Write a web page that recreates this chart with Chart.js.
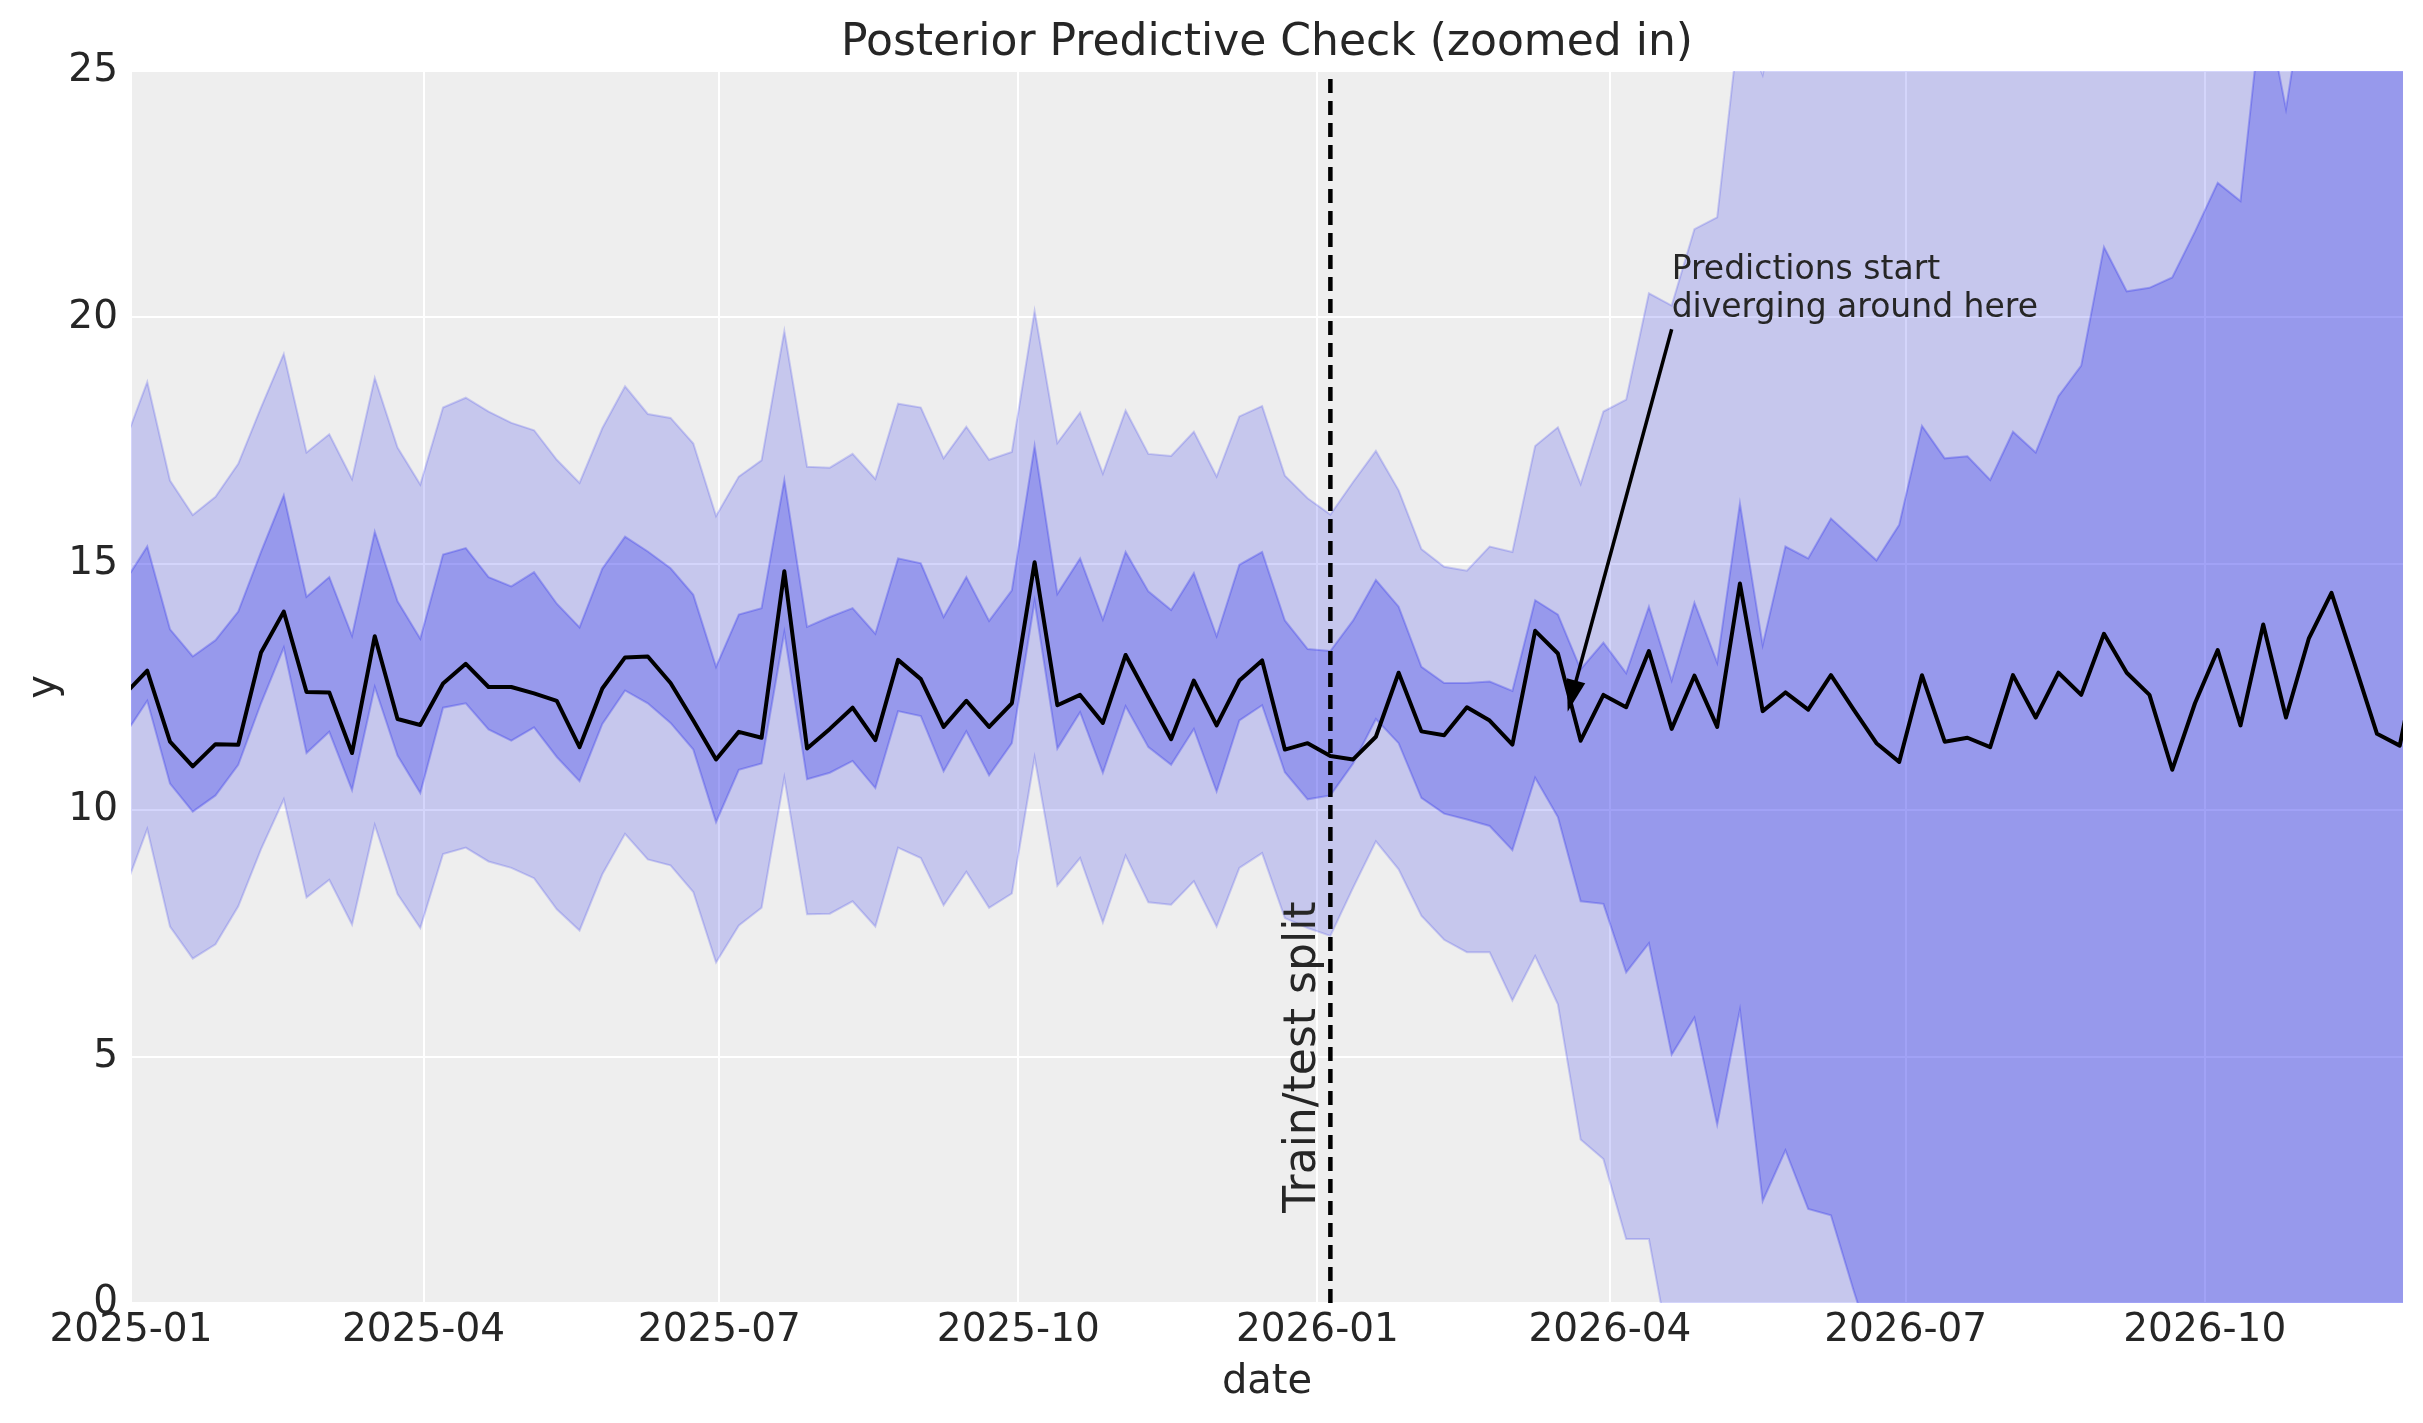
<!DOCTYPE html>
<html><head><meta charset="utf-8">
<script src="https://cdn.jsdelivr.net/npm/chart.js@4.4.1/dist/chart.umd.min.js"></script>
<style>html,body{margin:0;padding:0;background:#fff;}canvas{display:block;}</style>
</head><body>
<canvas id="c" width="2423" height="1423"></canvas>
<script>
// ---------------- data ----------------
const dates = [
'2024-12-30','2025-01-06','2025-01-13','2025-01-20','2025-01-27','2025-02-03','2025-02-10','2025-02-17','2025-02-24','2025-03-03',
'2025-03-10','2025-03-17','2025-03-24','2025-03-31','2025-04-07','2025-04-14','2025-04-21','2025-04-28','2025-05-05','2025-05-12',
'2025-05-19','2025-05-26','2025-06-02','2025-06-09','2025-06-16','2025-06-23','2025-06-30','2025-07-07','2025-07-14','2025-07-21',
'2025-07-28','2025-08-04','2025-08-11','2025-08-18','2025-08-25','2025-09-01','2025-09-08','2025-09-15','2025-09-22','2025-09-29',
'2025-10-06','2025-10-13','2025-10-20','2025-10-27','2025-11-03','2025-11-10','2025-11-17','2025-11-24','2025-12-01','2025-12-08',
'2025-12-15','2025-12-22','2025-12-29','2026-01-05','2026-01-12','2026-01-19','2026-01-26','2026-02-02','2026-02-09','2026-02-16',
'2026-02-23','2026-03-02','2026-03-09','2026-03-16','2026-03-23','2026-03-30','2026-04-06','2026-04-13','2026-04-20','2026-04-27',
'2026-05-04','2026-05-11','2026-05-18','2026-05-25','2026-06-01','2026-06-08','2026-06-15','2026-06-22','2026-06-29','2026-07-06',
'2026-07-13','2026-07-20','2026-07-27','2026-08-03','2026-08-10','2026-08-17','2026-08-24','2026-08-31','2026-09-07','2026-09-14',
'2026-09-21','2026-09-28','2026-10-05','2026-10-12','2026-10-19','2026-10-26','2026-11-02','2026-11-09','2026-11-16','2026-11-23',
'2026-11-30','2026-12-07'];

const observed = [
12.35,12.83,11.39,10.89,11.34,11.33,13.20,14.03,12.40,12.39,
11.16,13.53,11.85,11.73,12.57,12.97,12.50,12.50,12.37,12.22,
11.28,12.47,13.10,13.12,12.58,11.82,11.03,11.59,11.47,14.85,
11.25,11.65,12.08,11.42,13.05,12.66,11.69,12.22,11.69,12.17,
15.03,12.13,12.34,11.77,13.15,12.29,11.44,12.63,11.72,12.63,
13.04,11.23,11.36,11.10,11.03,11.49,12.79,11.60,11.52,12.09,
11.82,11.33,13.64,13.18,11.41,12.34,12.09,13.23,11.65,12.73,
11.69,14.60,12.01,12.39,12.04,12.74,12.04,11.36,10.98,12.74,
11.39,11.47,11.28,12.74,11.88,12.79,12.34,13.58,12.79,12.34,
10.82,12.17,13.25,11.72,13.77,11.88,13.48,14.41,12.99,11.55,
11.31,13.60];

const hdi94Upper = [
17.45,18.69,16.69,15.99,16.36,17.03,18.17,19.26,17.26,17.63,
16.72,18.77,17.36,16.61,18.17,18.37,18.09,17.86,17.71,17.11,
16.64,17.75,18.60,18.04,17.96,17.44,15.97,16.77,17.10,19.72,
16.97,16.95,17.23,16.72,18.25,18.17,17.14,17.78,17.11,17.27,
20.13,17.45,18.07,16.83,18.11,17.23,17.19,17.68,16.77,17.99,
18.20,16.79,16.33,16.00,16.66,17.29,16.49,15.30,14.94,14.86,
15.35,15.24,17.39,17.77,16.62,18.09,18.33,20.49,20.24,21.79,
22.03,26.10,24.92,27.30,27.90,28.60,28.90,29.40,30.20,31.00,
32.40,32.80,33.10,33.50,34.40,34.90,35.60,36.10,37.40,37.00,
37.70,38.50,39.10,40.40,40.10,41.40,40.90,42.60,43.40,44.00,
44.60,45.20];

const hdi50Upper = [
14.63,15.35,13.67,13.12,13.45,14.03,15.24,16.39,14.33,14.73,
13.54,15.65,14.24,13.48,15.19,15.32,14.73,14.54,14.83,14.19,
13.71,14.90,15.55,15.25,14.91,14.37,12.91,13.97,14.10,16.70,
13.72,13.92,14.10,13.58,15.11,15.01,13.92,14.73,13.84,14.46,
17.39,14.39,15.11,13.87,15.24,14.44,14.06,14.81,13.53,14.98,
15.24,13.85,13.27,13.23,13.85,14.67,14.13,12.91,12.58,12.58,
12.61,12.42,14.26,13.97,12.86,13.40,12.78,14.13,12.63,14.21,
12.99,16.22,13.35,15.35,15.11,15.92,15.50,15.07,15.79,17.80,
17.14,17.18,16.70,17.68,17.26,18.40,19.02,21.43,20.53,20.60,
20.81,21.74,22.73,22.36,26.60,24.23,27.20,28.00,28.90,29.60,
30.40,31.20];

const hdi50Lower = [
11.52,12.22,10.54,9.97,10.30,10.92,12.17,13.30,11.16,11.59,
10.41,12.50,11.11,10.35,12.08,12.17,11.64,11.41,11.68,11.08,
10.59,11.75,12.43,12.17,11.77,11.23,9.76,10.82,10.95,13.61,
10.63,10.76,11.00,10.45,12.01,11.91,10.79,11.60,10.71,11.36,
14.24,11.25,11.99,10.76,12.11,11.28,10.92,11.65,10.38,11.82,
12.13,10.77,10.22,10.30,10.95,11.85,11.36,10.25,9.93,9.81,
9.68,9.19,10.66,9.86,8.15,8.10,6.71,7.30,5.04,5.79,
3.62,5.95,2.07,3.10,1.91,1.78,0.25,-1.20,-1.90,-2.60,
-2.30,-3.10,-3.60,-3.30,-4.20,-4.60,-4.90,-5.60,-5.30,-6.10,
-6.80,-6.50,-7.20,-7.60,-7.90,-8.40,-8.10,-8.90,-9.30,-9.80,
-10.20,-10.60];

const hdi94Lower = [
8.38,9.62,7.64,6.99,7.28,8.05,9.21,10.22,8.23,8.59,
7.68,9.70,8.30,7.61,9.11,9.24,8.96,8.83,8.62,7.99,
7.56,8.70,9.52,9.00,8.88,8.34,6.91,7.66,8.02,10.66,
7.89,7.90,8.15,7.64,9.24,9.03,8.07,8.75,8.02,8.31,
11.07,8.47,9.03,7.72,9.08,8.13,8.08,8.56,7.64,8.83,
9.13,7.81,7.61,7.45,8.43,9.37,8.80,7.86,7.37,7.12,
7.12,6.14,7.04,6.06,3.32,2.92,1.30,1.30,-1.20,-0.90,
-3.00,-2.20,-5.10,-4.60,-6.00,-6.40,-7.90,-8.50,-9.20,-8.80,
-10.00,-10.50,-11.20,-10.90,-12.00,-12.60,-13.10,-13.80,-13.40,-14.50,
-15.20,-14.90,-15.80,-16.30,-16.90,-17.40,-17.10,-18.20,-18.80,-19.30,
-19.90,-20.40];

const xTickLabels = ['2025-01','2025-04','2025-07','2025-10','2026-01','2026-04','2026-07','2026-10'];
const xRange = ['2025-01-01','2026-12-01'];
const yTicks = [0,5,10,15,20,25];
const yRange = [0,25];

const titleText = 'Posterior Predictive Check (zoomed in)';
const xTitle = 'date';
const yTitle = 'y';
const splitDate = '2026-01-05';
const splitLabel = 'Train/test split';
const splitLabelY = 1.83;
const annotationLines = ['Predictions start','diverging around here'];
const annotationTextAt = ['2026-04-20', 20];
const arrowFrom = ['2026-04-20', 19.76];
const arrowTo = ['2026-03-19', 12.0];

// ---------------- helpers ----------------
const DAY = 86400000;
const ORIGIN = Date.UTC(2025,0,1);
function dayOf(s){ const p = s.split('-').map(Number); return (Date.UTC(p[0], p[1]-1, p[2]||1) - ORIGIN)/DAY; }
function pts(arr){ return arr.map((v,i)=>({x: dayOf(dates[i]), y: v})); }

const FONT = '"DejaVu Sans", "Liberation Sans", sans-serif';
const TXT = '#262626';
const C0 = '42,46,236';

const bgPlugin = {
  id: 'bg',
  beforeDraw(chart){
    const {ctx, chartArea:a} = chart;
    ctx.save();
    ctx.fillStyle = '#ffffff';
    ctx.fillRect(0,0,chart.width,chart.height);
    ctx.fillStyle = '#eeeeee';
    ctx.fillRect(a.left, a.top, a.right-a.left, a.bottom-a.top);
    ctx.restore();
  }
};

const overlayPlugin = {
  id: 'overlay',
  afterDatasetsDraw(chart){
    const {ctx, chartArea:a, scales:{x, y}} = chart;
    // dashed split line
    const sx = x.getPixelForValue(dayOf(splitDate));
    ctx.save();
    ctx.beginPath(); ctx.rect(a.left, a.top, a.right-a.left, a.bottom-a.top); ctx.clip();
    ctx.setLineDash([14,8]);
    ctx.lineWidth = 4.5;
    ctx.strokeStyle = '#000';
    ctx.beginPath(); ctx.moveTo(sx, a.bottom); ctx.lineTo(sx, a.top); ctx.stroke();
    ctx.restore();

    // split label
    ctx.save();
    ctx.translate(sx - 15, y.getPixelForValue(splitLabelY));
    ctx.rotate(-Math.PI/2);
    ctx.font = '44px ' + FONT;
    ctx.fillStyle = TXT;
    ctx.textAlign = 'left';
    ctx.textBaseline = 'alphabetic';
    ctx.fillText(splitLabel, 0, 0);
    ctx.restore();

    // annotation text
    const tx = x.getPixelForValue(dayOf(annotationTextAt[0]));
    const ty = y.getPixelForValue(annotationTextAt[1]);
    ctx.save();
    ctx.font = '33px ' + FONT;
    ctx.fillStyle = TXT;
    ctx.textAlign = 'left';
    ctx.textBaseline = 'alphabetic';
    const lh = 38;
    annotationLines.forEach((t,i)=>{
      ctx.fillText(t, tx, ty - (annotationLines.length-1-i)*lh);
    });
    ctx.restore();

    // arrow
    const x1 = x.getPixelForValue(dayOf(arrowFrom[0])), y1 = y.getPixelForValue(arrowFrom[1]);
    const x2 = x.getPixelForValue(dayOf(arrowTo[0])), y2 = y.getPixelForValue(arrowTo[1]);
    const dx = x2-x1, dy = y2-y1, L = Math.hypot(dx,dy);
    const ux = dx/L, uy = dy/L;
    const hl = 32, hw = 9.5;
    const bx = x2 - ux*hl, by = y2 - uy*hl;
    ctx.save();
    ctx.strokeStyle = '#000'; ctx.fillStyle = '#000';
    ctx.lineWidth = 3.5;
    ctx.beginPath(); ctx.moveTo(x1,y1); ctx.lineTo(bx+ux*2, by+uy*2); ctx.stroke();
    ctx.beginPath();
    ctx.moveTo(x2,y2);
    ctx.lineTo(bx - uy*hw, by + ux*hw);
    ctx.lineTo(bx + uy*hw, by - ux*hw);
    ctx.closePath(); ctx.fill();
    ctx.restore();
  },
  afterDraw(chart){
    const {ctx, chartArea:a} = chart;
    ctx.save();
    ctx.fillStyle = TXT;
    ctx.textAlign = 'center';
    ctx.textBaseline = 'alphabetic';
    ctx.font = '44px ' + FONT;
    ctx.fillText(titleText, (a.left+a.right)/2, 55);
    ctx.font = '40px ' + FONT;
    ctx.fillText(xTitle, (a.left+a.right)/2, 1393);
    ctx.translate(55, (a.top+a.bottom)/2);
    ctx.rotate(-Math.PI/2);
    ctx.fillText(yTitle, 0, 0);
    ctx.restore();
  }
};

const lineBase = {pointRadius:0, pointHoverRadius:0, tension:0, clip:0};

new Chart(document.getElementById('c').getContext('2d'), {
  type: 'line',
  data: {
    datasets: [
      Object.assign({label:'observed', data: pts(observed), borderColor:'#000', borderWidth:4, fill:false, borderJoinStyle:'round', borderCapStyle:'round'}, lineBase),
      Object.assign({label:'50% HDI upper', data: pts(hdi50Upper), borderColor:`rgba(${C0},0.3)`, backgroundColor:`rgba(${C0},0.3)`, borderWidth:2, fill:'+1'}, lineBase),
      Object.assign({label:'50% HDI lower', data: pts(hdi50Lower), borderColor:`rgba(${C0},0.3)`, borderWidth:2, fill:false}, lineBase),
      Object.assign({label:'94% HDI upper', data: pts(hdi94Upper), borderColor:`rgba(${C0},0.2)`, backgroundColor:`rgba(${C0},0.2)`, borderWidth:2, fill:'+1'}, lineBase),
      Object.assign({label:'94% HDI lower', data: pts(hdi94Lower), borderColor:`rgba(${C0},0.2)`, borderWidth:2, fill:false}, lineBase)
    ]
  },
  options: {
    responsive: false,
    devicePixelRatio: 1,
    animation: false,
    events: [],
    layout: {padding: {top: 71, right: 20, left: 0, bottom: 0}},
    plugins: {legend: {display:false}, title: {display:false}, tooltip: {enabled:false}},
    scales: {
      x: {
        type: 'linear',
        min: dayOf(xRange[0]),
        max: dayOf(xRange[1]),
        afterBuildTicks: s => { s.ticks = xTickLabels.map(l => ({value: dayOf(l + '-01')})); },
        ticks: {
          callback: (v, i) => xTickLabels[i],
          font: {family: FONT, size: 39},
          color: TXT,
          padding: 4,
          maxRotation: 0, minRotation: 0,
          autoSkip: false
        },
        grid: {color: '#ffffff', lineWidth: 2, drawTicks: false},
        border: {display: false},
        afterFit: s => { s.height = 120; }
      },
      y: {
        min: yRange[0],
        max: yRange[1],
        afterBuildTicks: s => { s.ticks = yTicks.map(v => ({value: v})); },
        ticks: {
          callback: v => String(v),
          font: {family: FONT, size: 39},
          color: TXT,
          padding: 13
        },
        grid: {color: '#ffffff', lineWidth: 2, drawTicks: false},
        border: {display: false},
        afterFit: s => { s.width = 131; }
      }
    }
  },
  plugins: [bgPlugin, overlayPlugin]
});
</script>
</body></html>
